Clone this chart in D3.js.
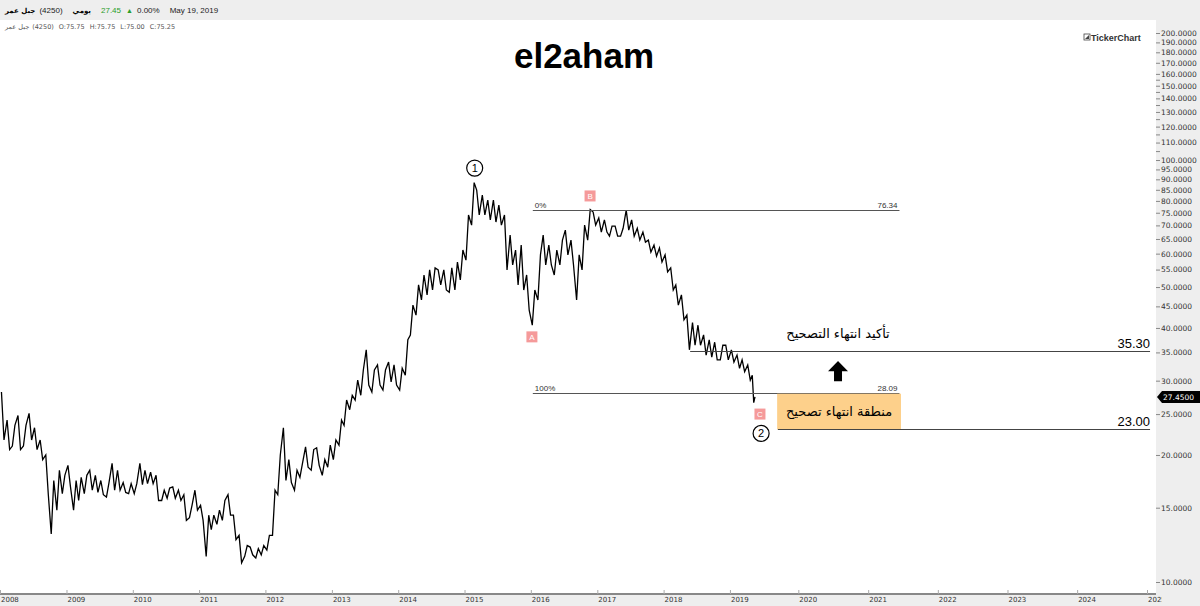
<!DOCTYPE html>
<html>
<head>
<meta charset="utf-8">
<script src="https://cdn.jsdelivr.net/npm/d3@7"></script>
<style>
  body { margin: 0; background: #fff; }
  svg { display: block; font-family: "Liberation Sans", Arial, sans-serif; }
</style>
</head>
<body>
<div id="viz"></div>
<script>
// monthly lows / highs, Jan 2008 .. May 2019
const monthLows = [
  21.7, 20.6, 21.0, 20.6, 21.0, 21.7, 20.6, 19.5, 16.1, 13.0, 14.8, 16.2,
  16.8, 14.8, 15.6, 16.2, 16.5, 16.3, 16.1, 15.9, 16.5, 16.5, 16.3, 16.2,
  16.2, 17.0, 17.1, 17.1, 15.6, 15.6, 15.8, 15.8, 15.6, 14.0, 14.2, 14.8,
  14.0, 11.5, 13.3, 13.7, 14.0, 14.4, 12.6, 11.1, 11.5, 11.6, 11.4, 11.6,
  11.9, 12.9, 16.1, 17.4, 17.2, 16.5, 17.7, 18.7, 18.4, 18.9, 17.9, 18.7,
  19.5, 21.1, 23.5, 25.6, 27.0, 27.7, 29.3, 28.2, 29.3, 28.5, 29.8, 29.3,
  28.5, 30.9, 38.5, 42.9, 46.6, 47.9, 49.2, 50.6, 49.2, 48.6, 49.2, 52.0,
  57.9, 70.1, 74.1, 74.1, 72.1, 71.3, 70.1, 54.9, 56.4, 50.6, 49.2, 44.1,
  40.6, 46.6, 56.4, 56.4, 53.4, 56.4, 59.6, 56.4, 46.6, 54.9, 64.6, 70.1,
  67.5, 67.5, 66.0, 66.0, 66.0, 68.2, 66.0, 64.6, 63.9, 60.5, 59.2, 57.3,
  54.3, 49.2, 45.3, 41.8, 35.5, 36.4, 36.4, 34.5, 34.1, 33.6, 33.6, 33.6,
  33.2, 32.1, 31.5, 30.1, 26.6
];
const monthHighs = [
  28.2, 24.2, 23.5, 24.8, 23.5, 25.1, 23.2, 21.7, 20.0, 17.4, 18.4, 17.9,
  18.9, 17.4, 17.7, 17.9, 18.4, 17.9, 17.4, 17.2, 19.1, 18.4, 17.2, 17.1,
  17.1, 19.1, 18.4, 18.2, 17.9, 16.5, 16.7, 16.8, 16.5, 16.1, 15.2, 16.5,
  15.2, 14.4, 14.4, 14.8, 15.6, 16.1, 14.4, 12.9, 12.2, 12.1, 12.0, 12.2,
  12.9, 16.5, 20.0, 23.2, 19.5, 18.4, 19.1, 20.9, 20.6, 20.8, 19.5, 21.1,
  21.7, 24.2, 27.0, 27.7, 30.1, 31.8, 35.5, 31.8, 32.7, 31.8, 33.2, 32.7,
  32.1, 37.5, 45.3, 50.6, 53.4, 54.9, 55.5, 54.9, 54.9, 55.5, 57.3, 61.2,
  74.1, 88.4, 84.9, 82.6, 80.4, 80.4, 78.2, 74.1, 66.4, 61.2, 62.9, 53.4,
  49.2, 59.6, 66.4, 62.9, 61.2, 64.6, 68.2, 64.6, 59.6, 70.1, 76.3, 75.3,
  72.9, 72.1, 69.7, 69.7, 68.9, 76.1, 72.1, 68.9, 67.5, 64.6, 62.9, 61.9,
  59.6, 55.5, 50.6, 47.9, 42.9, 41.2, 40.6, 38.5, 37.5, 37.0, 36.4, 36.4,
  35.5, 34.5, 33.6, 32.7, 30.9
];
const lastDate = "2019-05-19";
const lastClose = 27.45;

const yTicks = [10, 15, 20, 25, 30, 35, 40, 45, 50, 55, 60, 65, 70, 75, 80, 85, 90, 95,
  100, 110, 120, 130, 140, 150, 160, 170, 180, 190, 200];
const yMinorTicks = [105, 115, 125, 135, 145, 155];
const yearLabels = ["2008", "2009", "2010", "2011", "2012", "2013", "2014", "2015", "2016",
  "2017", "2018", "2019", "2020", "2021", "2022", "2023", "2024", "2025"];

const headerItems = [
  { text: "جبل عمر", color: "#000", arabic: true, gap: 4 },
  { text: "(4250)", color: "#222", gap: 10 },
  { text: "يومي", color: "#000", arabic: true, gap: 10 },
  { text: "27.45", color: "#2a9d2a", gap: 5 },
  { text: "▲", color: "#2a9d2a", gap: 4, size: "7px" },
  { text: "0.00%", color: "#222", gap: 10 },
  { text: "May 19, 2019", color: "#222", gap: 0 }
];
const ohlcItems = ["جبل عمر", "(4250)", "O:75.75", "H:75.75", "L:75.00", "C:75.25"];

const fibLevels = [
  { pct: "0%", value: 76.34, from: "2016-01-12", to: "2021-06-14" },
  { pct: "100%", value: 28.09, from: "2016-01-12", to: "2021-06-14" }
];
const targetLevels = [
  { value: 35.30, from: "2018-05-27", to: "2025-01-17" },
  { value: 23.00, from: "2019-09-16", to: "2025-01-17" }
];
const zoneBox = { from: "2019-09-12", to: "2021-06-22", top: 28.09, bottom: 23.00, text: "منطقة انتهاء تصحيح" };
const confirmText = { date: "2020-07-27", value: 37.8, text: "تأكيد انتهاء التصحيح" };
const arrowMark = { date: "2020-07-27", top: 33.4, bottom: 29.9 };
const waveCircles = [
  { text: "1", date: "2015-02-26", value: 95.7 },
  { text: "2", date: "2019-06-20", value: 22.5 }
];
const waveSquares = [
  { text: "A", date: "2016-01-07", value: 38.1 },
  { text: "B", date: "2016-11-22", value: 82.2 },
  { text: "C", date: "2019-06-14", value: 25.0 }
];

const W = 1200, H = 606;
const plotRight = 1156, axisBottom = 594;
const parse = d3.timeParse("%Y-%m-%d");

const svg = d3.select("#viz").append("svg").attr("width", W).attr("height", H);

const x = d3.scaleTime()
  .domain([new Date(2008, 0, 1), parse(lastDate), new Date(2025, 0, 1)])
  .range([0, 755, 1147]);
const y = d3.scaleLog().domain([10, 200]).range([582, 33]);

// header bar
svg.append("rect").attr("x", 0).attr("y", 0).attr("width", W).attr("height", 20).attr("fill", "#eeeeee");
// right axis panel
svg.append("rect").attr("x", plotRight).attr("y", 20).attr("width", W - plotRight).attr("height", H - 20).attr("fill", "#eeeeee");
// bottom axis band
svg.append("rect").attr("x", 0).attr("y", axisBottom).attr("width", plotRight).attr("height", H - axisBottom).attr("fill", "#eeeeee");

// header texts, laid out one after the other
let hx = 5;
headerItems.forEach(it => {
  const t = svg.append("text").attr("x", hx).attr("y", 13)
    .attr("fill", it.color)
    .attr("font-size", it.size || (it.arabic ? "7px" : "8px"))
    .attr("font-family", it.arabic ? "DejaVu Sans" : null)
    .attr("font-weight", it.arabic ? "bold" : null)
    .text(it.text);
  hx += t.node().getComputedTextLength() + it.gap;
});

let ox = 5;
ohlcItems.forEach((s, i) => {
  const t = svg.append("text").attr("x", ox).attr("y", 29)
    .attr("font-size", "6.5px").attr("fill", "#555").attr("font-family", "DejaVu Sans").text(s);
  ox += t.node().getComputedTextLength() + (i === 0 ? 3 : 5);
});

// title and logo
svg.append("text").attr("x", 584).attr("y", 68).attr("text-anchor", "middle")
  .attr("font-size", "35px").attr("font-weight", "bold").attr("fill", "#000").text("el2aham");
const logo = svg.append("g");
logo.append("rect").attr("x", 1084).attr("y", 34).attr("width", 6).attr("height", 6).attr("fill", "none").attr("stroke", "#444").attr("stroke-width", 0.8);
logo.append("path").attr("d", "M1085,39 L1089,35 L1089,39 Z").attr("fill", "#444");
logo.append("text").attr("x", 1091).attr("y", 40.5).attr("font-size", "9px").attr("font-weight", "bold").attr("fill", "#333").text("TickerChart");

// y axis
const yAxisG = svg.append("g").attr("transform", `translate(${plotRight},0)`)
  .call(d3.axisRight(y).tickValues(yTicks).tickSize(4).tickPadding(1).tickFormat(d3.format(".4f")));
yAxisG.select(".domain").remove();
yAxisG.selectAll("text").attr("font-size", "7.5px").attr("fill", "#333").attr("font-family", "DejaVu Sans");
yAxisG.selectAll("line").attr("stroke", "#888");
const yMinorG = svg.append("g").attr("transform", `translate(${plotRight},0)`)
  .call(d3.axisRight(y).tickValues(yMinorTicks).tickSize(4).tickFormat(""));
yMinorG.select(".domain").remove();
yMinorG.selectAll("line").attr("stroke", "#888");

// x axis
const yearDates = yearLabels.map(s => new Date(+s, 0, 1));
const xAxisG = svg.append("g").attr("transform", `translate(0,${axisBottom})`)
  .call(d3.axisTop(x).tickValues(yearDates).tickSize(4).tickFormat(""));
xAxisG.select(".domain").attr("stroke", "#888").attr("stroke-width", 2).attr("d", `M0,0H${plotRight}`);
xAxisG.selectAll("line").attr("stroke", "#aaa");
svg.append("g").selectAll("text").data(yearDates).join("text")
  .attr("x", d => x(d) + 1).attr("y", 602)
  .attr("font-size", "7px").attr("fill", "#333").attr("font-family", "DejaVu Sans")
  .text(d => d.getFullYear());
// the last year label is cut by the right panel
svg.append("rect").attr("x", plotRight + 6).attr("y", axisBottom).attr("width", W - plotRight - 6).attr("height", H - axisBottom).attr("fill", "#eeeeee");

// price path (zig-zag through each month's low and high)
const months = d3.timeMonth.range(new Date(2008, 0, 1), new Date(2019, 5, 1));
const bars = months.map((m, i) => ({ date: m, lo: monthLows[i], hi: monthHighs[i] }));
const pts = [];
bars.forEach((b, i) => {
  const mid = Math.sqrt(b.lo * b.hi);
  const nxt = bars[i + 1] ? Math.sqrt(bars[i + 1].lo * bars[i + 1].hi) : lastClose;
  const last = i === bars.length - 1;
  const d1 = d3.timeDay.offset(b.date, last ? 3 : 8);
  const d2 = d3.timeDay.offset(b.date, last ? 11 : 22);
  if (nxt >= mid) { pts.push([d1, b.lo], [d2, b.hi]); }
  else { pts.push([d1, b.hi], [d2, b.lo]); }
});
pts.push([parse(lastDate), lastClose]);
svg.append("path").datum(pts)
  .attr("fill", "none").attr("stroke", "#000").attr("stroke-width", 1.3).attr("stroke-linejoin", "miter")
  .attr("d", d3.line().x(d => x(d[0])).y(d => y(d[1])));

// fibonacci levels
const fibG = svg.append("g");
fibLevels.forEach(f => {
  const x1 = x(parse(f.from)), x2 = x(parse(f.to)), yy = Math.round(y(f.value)) + 0.5;
  fibG.append("line").attr("x1", x1).attr("x2", x2).attr("y1", yy).attr("y2", yy).attr("stroke", "#555").attr("stroke-width", 1);
  fibG.append("text").attr("x", x1 + 2).attr("y", yy - 3).attr("font-size", "8px").attr("fill", "#333").text(f.pct);
  fibG.append("text").attr("x", x2 - 2).attr("y", yy - 3).attr("text-anchor", "end").attr("font-size", "8px").attr("fill", "#333").text(f.value.toFixed(2));
});

// orange zone box
svg.append("rect")
  .attr("x", x(parse(zoneBox.from))).attr("y", y(zoneBox.top) + 1)
  .attr("width", x(parse(zoneBox.to)) - x(parse(zoneBox.from)))
  .attr("height", y(zoneBox.bottom) - y(zoneBox.top) - 1)
  .attr("fill", "#fdd08b");
svg.append("text")
  .attr("x", (x(parse(zoneBox.from)) + x(parse(zoneBox.to))) / 2)
  .attr("y", (y(zoneBox.top) + y(zoneBox.bottom)) / 2 + 5)
  .attr("text-anchor", "middle").attr("font-family", "DejaVu Sans").attr("font-size", "13px").attr("fill", "#000")
  .text(zoneBox.text);

// target levels
targetLevels.forEach(t => {
  const x1 = x(parse(t.from)), x2 = x(parse(t.to)), yy = Math.round(y(t.value)) + 0.5;
  svg.append("line").attr("x1", x1).attr("x2", x2).attr("y1", yy).attr("y2", yy).attr("stroke", "#444").attr("stroke-width", 1);
  svg.append("text").attr("x", x2).attr("y", yy - 4).attr("text-anchor", "end")
    .attr("font-size", "13px").attr("fill", "#000").text(t.value.toFixed(2));
});

svg.append("text").attr("x", x(parse(confirmText.date))).attr("y", y(confirmText.value))
  .attr("text-anchor", "middle").attr("font-family", "DejaVu Sans").attr("font-size", "13px").attr("fill", "#000")
  .text(confirmText.text);

// up arrow
const ax = x(parse(arrowMark.date)), aTop = y(arrowMark.top), aBot = y(arrowMark.bottom);
const headH = (aBot - aTop) * 0.5;
svg.append("path")
  .attr("d", `M${ax},${aTop} L${ax + 10},${aTop + headH} L${ax + 4},${aTop + headH} L${ax + 4},${aBot} L${ax - 4},${aBot} L${ax - 4},${aTop + headH} L${ax - 10},${aTop + headH} Z`)
  .attr("fill", "#000");

// wave labels
const circG = svg.append("g").selectAll("g").data(waveCircles).join("g")
  .attr("transform", d => `translate(${x(parse(d.date))},${y(d.value)})`);
circG.append("circle").attr("r", 8).attr("fill", "#fff").attr("stroke", "#000").attr("stroke-width", 1.2);
circG.append("text").attr("y", 4).attr("text-anchor", "middle").attr("font-size", "11px").attr("fill", "#000").text(d => d.text);

const sqG = svg.append("g").selectAll("g").data(waveSquares).join("g")
  .attr("transform", d => `translate(${x(parse(d.date))},${y(d.value)})`);
sqG.append("rect").attr("x", -5.5).attr("y", -5.5).attr("width", 11).attr("height", 11).attr("fill", "#f59a9a");
sqG.append("text").attr("y", 3).attr("text-anchor", "middle").attr("font-size", "8px").attr("fill", "#fff").text(d => d.text);

// last price tag
const ty = y(lastClose);
svg.append("path")
  .attr("d", `M${plotRight + 1},${ty} L${plotRight + 6},${ty - 6} L${W},${ty - 6} L${W},${ty + 6} L${plotRight + 6},${ty + 6} Z`)
  .attr("fill", "#000");
svg.append("text").attr("x", plotRight + 7).attr("y", ty + 3).attr("font-size", "7.5px").attr("font-family", "DejaVu Sans")
  .attr("fill", "#fff").text(lastClose.toFixed(4));
</script>
</body>
</html>
